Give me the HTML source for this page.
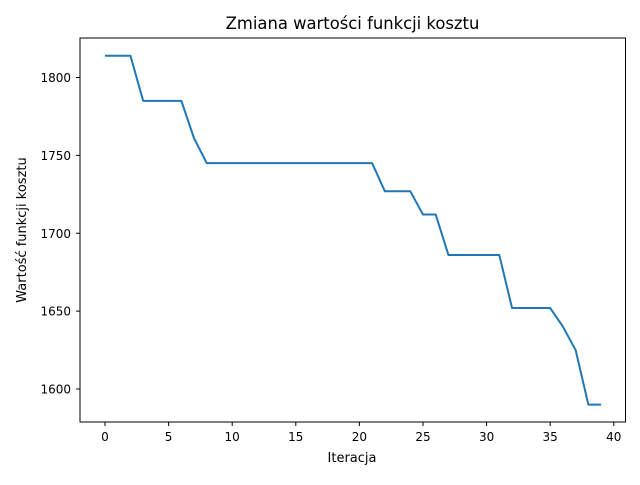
<!DOCTYPE html>
<html><head><meta charset="utf-8"><style>
body{margin:0;background:#fff;font-family:"Liberation Sans","DejaVu Sans",sans-serif;}
</style></head><body>
<svg id="chart" width="640" height="480" font-family="DejaVu Sans, Liberation Sans, sans-serif">
<rect width="640" height="480" fill="#fff"/>
<text x="352.5" y="29" text-anchor="middle" font-size="16.4">Zmiana wartości funkcji kosztu</text>
<text x="352" y="462" text-anchor="middle" font-size="13">Iteracja</text>
<text transform="translate(26,230) rotate(-90)" text-anchor="middle" font-size="13">Wartość funkcji kosztu</text>
<g id="xt"></g><g id="yt"></g>
<polyline id="line" fill="none" stroke="#1f77b4" stroke-width="2" stroke-linejoin="round"/>
<rect x="80" y="38" width="545.5" height="384" fill="none" stroke="#000" stroke-width="1"/>
</svg>
<script>
const costValues=[1814,1814,1814,1785,1785,1785,1785,1761,1745,1745,1745,1745,1745,1745,1745,1745,1745,1745,1745,1745,1745,1745,1727,1727,1727,1712,1712,1686,1686,1686,1686,1686,1652,1652,1652,1652,1640,1625,1590,1590];
const xTicks=[0,5,10,15,20,25,30,35,40];
const yTicks=[1600,1650,1700,1750,1800];
const ns="http://www.w3.org/2000/svg";
function xs(v){return 105+12.72*v;}
function ys(v){return 77.5+(1800-v)*1.5575;}
document.getElementById('line').setAttribute('points',costValues.map((v,i)=>xs(i)+','+ys(v)).join(' '));
const xt=document.getElementById('xt'),yt=document.getElementById('yt');
xTicks.forEach(t=>{
 const l=document.createElementNS(ns,'line');
 l.setAttribute('x1',xs(t));l.setAttribute('x2',xs(t));l.setAttribute('y1',422);l.setAttribute('y2',426);l.setAttribute('stroke','#000');
 
 
 xt.appendChild(l);
 const s=document.createElementNS(ns,'text');
 s.setAttribute('x',xs(t));s.setAttribute('y',441);s.setAttribute('text-anchor','middle');s.setAttribute('font-size','12');s.textContent=t;
 
 
 xt.appendChild(s);
});
yTicks.forEach(t=>{
 const l=document.createElementNS(ns,'line');
 l.setAttribute('x1',76);l.setAttribute('x2',80);l.setAttribute('y1',ys(t));l.setAttribute('y2',ys(t));l.setAttribute('stroke','#000');
 
 
 yt.appendChild(l);
 const s=document.createElementNS(ns,'text');
 s.setAttribute('x',71);s.setAttribute('y',ys(t)+4.5);s.setAttribute('text-anchor','end');s.setAttribute('font-size','12');s.textContent=t;
 
 
 yt.appendChild(s);
});
</script>
</body></html>
